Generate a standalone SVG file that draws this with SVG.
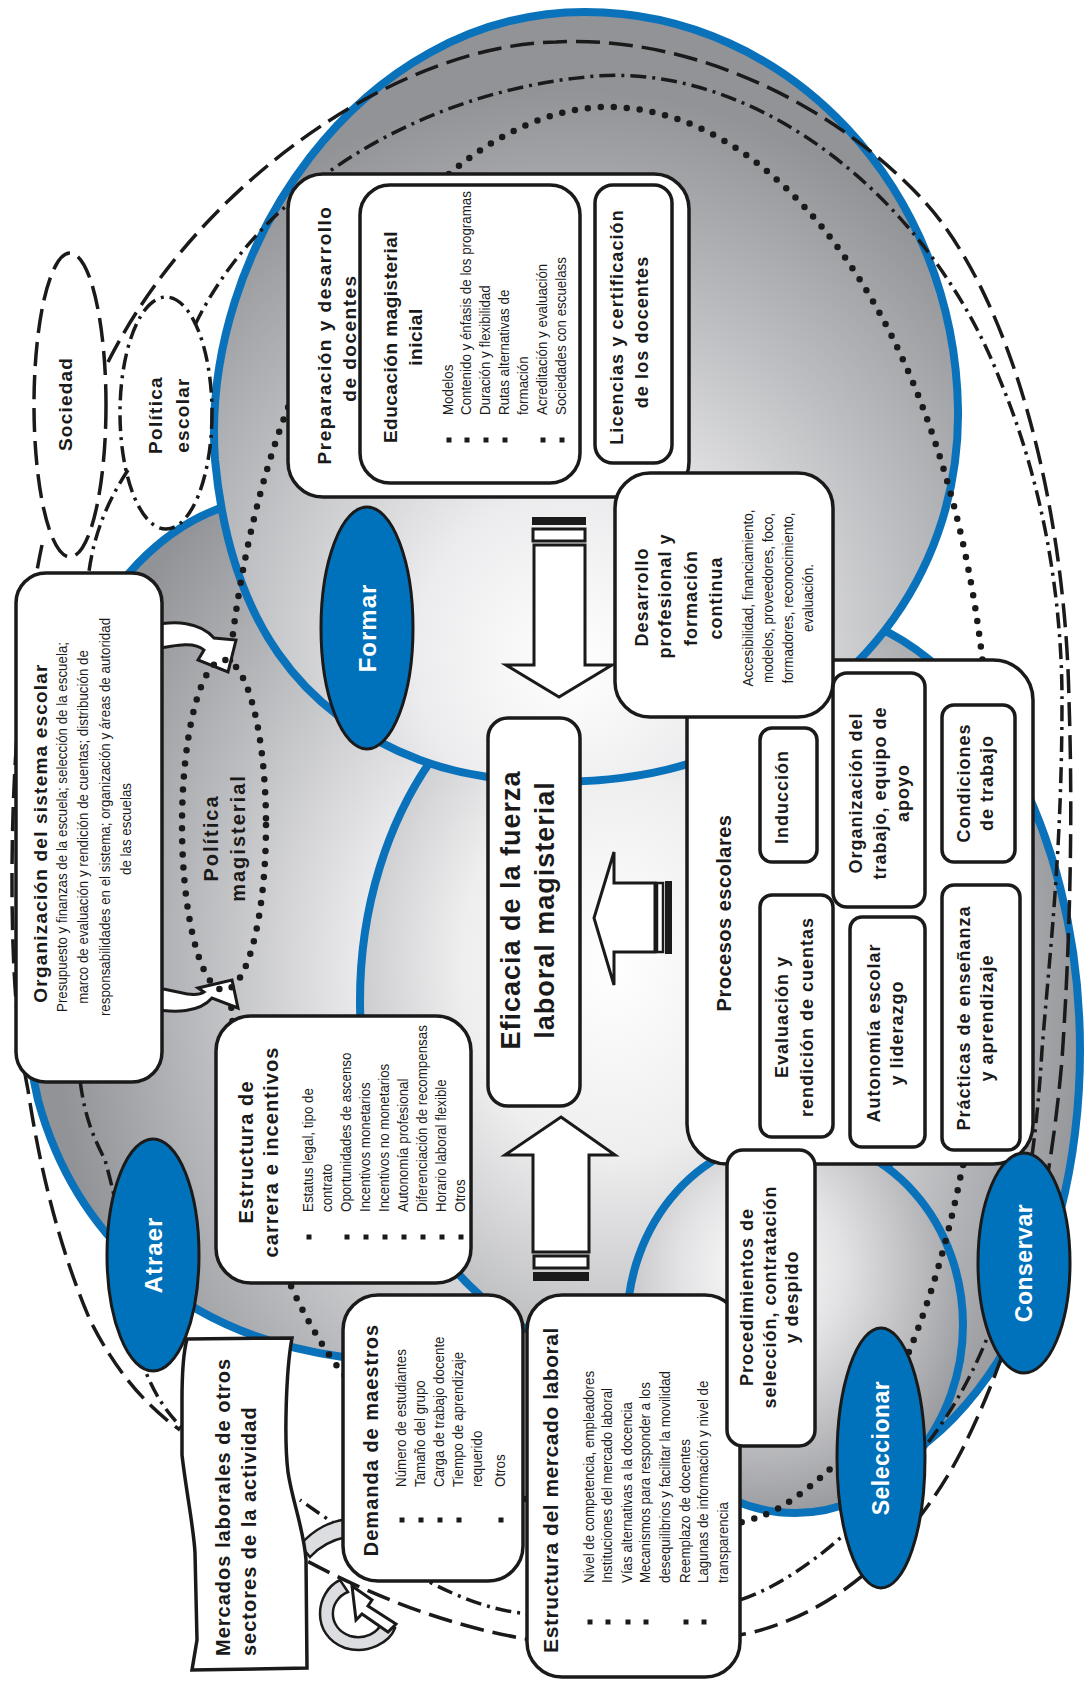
<svg xmlns="http://www.w3.org/2000/svg" width="1089" height="1682" viewBox="0 0 1089 1682">
<defs>
<radialGradient id="gTop" cx=".48" cy=".8" r=".7" fx=".48" fy=".85"><stop offset="0" stop-color="#fff"/><stop offset=".3" stop-color="#ececee"/><stop offset=".65" stop-color="#bdbec1"/><stop offset="1" stop-color="#929397"/></radialGradient>
<radialGradient id="gLeft" cx=".8" cy=".55" r=".75"><stop offset="0" stop-color="#fff"/><stop offset=".35" stop-color="#e9e9eb"/><stop offset=".7" stop-color="#b9babd"/><stop offset="1" stop-color="#929397"/></radialGradient>
<radialGradient id="gCen" cx=".45" cy=".45" r=".6"><stop offset="0" stop-color="#fff"/><stop offset=".45" stop-color="#eeeeef"/><stop offset="1" stop-color="#b0b1b4"/></radialGradient>
<radialGradient id="gRight" cx=".3" cy=".45" r=".75"><stop offset="0" stop-color="#fff"/><stop offset=".35" stop-color="#e4e4e6"/><stop offset=".7" stop-color="#b4b5b8"/><stop offset="1" stop-color="#8f9094"/></radialGradient>
<radialGradient id="gBot" cx=".4" cy=".35" r=".7"><stop offset="0" stop-color="#fff"/><stop offset=".35" stop-color="#e2e2e4"/><stop offset="1" stop-color="#939498"/></radialGradient>
<style>
.sph{stroke:#0a72ba;stroke-width:8}
.bx{fill:#fff;stroke:#1a1a1a;stroke-width:3.5}
.h{font-family:"Liberation Sans",Arial,sans-serif;font-weight:700;text-anchor:middle;fill:#1a1a1a}
.i{font-family:"Liberation Sans",Arial,sans-serif;font-size:15px;fill:#1a1a1a}
.c{font-family:"Liberation Sans",Arial,sans-serif;font-size:15px;fill:#1a1a1a;text-anchor:middle}
.b{fill:#1a1a1a}
.dots{fill:none;stroke:#1a1a1a;stroke-width:6.5;stroke-linecap:round;stroke-dasharray:0 13}
.dash{fill:none;stroke:#1a1a1a;stroke-width:3.5;stroke-dasharray:24 9}
.dd{fill:none;stroke:#1a1a1a;stroke-width:3.5;stroke-dasharray:16 6 3 6}
.blue{fill:#0072bc;stroke:#1a1a1a;stroke-width:3}
.wt{font-family:"Liberation Sans",Arial,sans-serif;font-weight:700;text-anchor:middle;fill:#fff}
.arr{fill:#fff;stroke:#1a1a1a;stroke-width:3;stroke-linejoin:miter}
.gry{fill:#dcdde0;stroke:#1a1a1a;stroke-width:2.5}
</style>
</defs>
<rect width="1089" height="1682" fill="#fff"/>

<g id="spheres">
<ellipse class="sph" fill="url(#gRight)" cx="800" cy="1050" rx="280" ry="440"/>
<path class="sph" fill="url(#gLeft)" d="M250,500 C170,515 95,585 55,710 C15,840 15,1000 38,1100 C75,1235 180,1335 343,1357 C500,1375 620,1250 640,1050 C660,800 520,560 250,500 Z"/>
<ellipse class="sph" fill="url(#gCen)" cx="640" cy="1000" rx="280" ry="360"/>
<ellipse class="sph" fill="url(#gBot)" cx="795" cy="1325" rx="168" ry="188"/>
<path class="sph" fill="url(#gTop)" d="M585,12 C790,12 955,190 958,410 C960,560 870,700 700,760 C620,788 500,790 420,760 C300,715 230,620 215,460 C200,250 360,12 585,12 Z"/>
</g>

<g id="connectors">
<path class="dash" d="M108,362 C200,180 400,45 556,42 C700,35 840,110 924,201 C1010,295 1065,500 1069,700 C1073,820 1070,940 1062,1060 C1047,1230 1012,1350 962,1450 C905,1560 820,1620 740,1635 C650,1650 560,1645 520,1638 C450,1625 380,1600 305,1560"/>
<path class="dash" d="M42,545 C22,640 12,760 12,880 C12,980 18,1040 28,1090 C40,1170 60,1250 90,1320 C115,1370 145,1405 180,1430"/>
<path class="dd" d="M195,325 C260,190 420,90 597,76 C760,65 930,200 1000,380 C1050,500 1062,620 1062,700 C1062,850 1050,950 1042,1050 C1030,1250 990,1360 930,1440 C870,1520 800,1580 740,1600 C660,1625 580,1620 520,1613 C460,1605 400,1570 300,1500"/>
<path class="dd" d="M128,470 C105,505 92,540 88,580 C80,700 75,900 80,1080 C85,1120 95,1140 105,1160 C125,1230 135,1320 145,1370 C155,1395 165,1410 182,1428"/>
<path class="dots" d="M230,660 C240,560 270,420 330,320 C400,200 500,110 604,107 C730,105 850,220 920,400 C970,530 995,680 990,850 C985,1000 975,1120 961,1174 C940,1280 900,1400 850,1450 C810,1490 780,1510 764,1515 C650,1560 450,1500 340,1370 C310,1330 285,1280 270,1230 C245,1150 235,1060 230,990"/>
<path class="arr" d="M150,626 C175,620 200,622 214,638 L236,640 L228,672 L198,660 L204,650 C195,642 180,644 150,650 Z"/>
<path class="arr" d="M150,1008 C175,1014 200,1012 212,998 L238,1008 L232,980 L198,988 L204,992 C195,998 180,992 150,986 Z"/>
<rect x="532" y="517" width="54" height="8" fill="#1a1a1a"/>
<rect x="533" y="529" width="52" height="12" fill="#fff" stroke="#1a1a1a" stroke-width="3"/>
<path class="arr" d="M534,545 L585,545 L585,665 L612,665 L559,697 L506,665 L534,665 Z"/>
<path class="arr" d="M561,1117 L615,1155 L589,1155 L589,1252 L533,1252 L533,1155 L505,1155 Z"/>
<rect x="534" y="1256" width="54" height="12" fill="#fff" stroke="#1a1a1a" stroke-width="3"/>
<rect x="533" y="1272" width="56" height="9" fill="#1a1a1a"/>
<path class="arr" d="M594,918 L614,852 L614,883 L655,883 L655,952 L614,952 L614,985 Z"/>
<rect x="657" y="883" width="6" height="69" fill="#fff" stroke="#1a1a1a" stroke-width="2.5"/>
<rect x="665" y="881" width="7" height="73" fill="#1a1a1a"/>
<path class="gry" d="M300,1545 C315,1528 330,1522 346,1519 L346,1537 C332,1540 320,1546 310,1557 Z"/>
<path class="gry" d="M340,1580 C315,1592 310,1635 345,1648 C368,1655 390,1642 395,1628 L382,1622 C378,1633 365,1640 350,1636 C327,1628 328,1600 348,1592 Z"/>
<path class="arr" d="M352,1586 L372,1600 L368,1606 L396,1624 L388,1632 L362,1614 L356,1620 Z"/>
</g>

<g id="sociedad"><ellipse class="dash" cx="70" cy="405" rx="36" ry="152"/><text class="h" font-size="19" letter-spacing="1.2" transform="translate(72,404) rotate(-90)">Sociedad</text></g>
<g id="politica-escolar"><ellipse class="dd" cx="166" cy="413" rx="46" ry="116"/><text class="h" font-size="19" letter-spacing="1.3" transform="translate(162,415) rotate(-90)">Política</text><text class="h" font-size="19" letter-spacing="1.3" transform="translate(189,415) rotate(-90)">escolar</text></g>

<g id="preparacion">
<rect class="bx" x="288" y="174" width="401" height="323" rx="35"/>
<text class="h" font-size="19" letter-spacing="1.5" transform="translate(331,335) rotate(-90)">Preparación y desarrollo</text>
<text class="h" font-size="19" letter-spacing="1.5" transform="translate(356,338) rotate(-90)">de docentes</text>
</g>
<g id="educacion">
<rect class="bx" x="360" y="185" width="220" height="298" rx="30"/>
<text class="h" font-size="19" letter-spacing=".5" transform="translate(397,337) rotate(-90)">Educación magisterial</text>
<text class="h" font-size="19" letter-spacing=".5" transform="translate(422,337) rotate(-90)">inicial</text>
<g class="b"><rect x="446.5" y="437.5" width="5" height="5"/><rect x="464.5" y="437.5" width="5" height="5"/><rect x="483.5" y="437.5" width="5" height="5"/><rect x="502.5" y="437.5" width="5" height="5"/><rect x="540.5" y="437.5" width="5" height="5"/><rect x="559.5" y="437.5" width="5" height="5"/></g>
<text class="i" transform="translate(453,415) rotate(-90) scale(.89,1)">Modelos</text>
<text class="i" transform="translate(471,415) rotate(-90) scale(.89,1)">Contenido y énfasis de los programas</text>
<text class="i" transform="translate(490,415) rotate(-90) scale(.89,1)">Duración y flexibilidad</text>
<text class="i" transform="translate(509,415) rotate(-90) scale(.89,1)">Rutas alternativas de</text>
<text class="i" transform="translate(528,415) rotate(-90) scale(.89,1)">formación</text>
<text class="i" transform="translate(547,415) rotate(-90) scale(.89,1)">Acreditación y evaluación</text>
<text class="i" transform="translate(566,415) rotate(-90) scale(.89,1)">Sociedades con escuelass</text>
</g>
<g id="licencias">
<rect class="bx" x="595" y="185" width="77" height="278" rx="18"/>
<text class="h" font-size="18" letter-spacing="1.1" transform="translate(623,327) rotate(-90)">Licencias y certificación</text>
<text class="h" font-size="18" letter-spacing="1.1" transform="translate(648,332) rotate(-90)">de los docentes</text>
</g>

<g id="procesos">
<rect class="bx" x="687" y="660" width="346" height="504" rx="40"/>
<text class="h" font-size="20" letter-spacing=".5" transform="translate(731,913) rotate(-90)">Procesos escolares</text>
</g>
<g id="induccion"><rect class="bx" x="760" y="728" width="57" height="134" rx="12"/><text class="h" font-size="18" letter-spacing="1" transform="translate(788,797) rotate(-90)">Inducción</text></g>
<g id="evaluacion"><rect class="bx" x="760" y="895" width="73" height="242" rx="12"/><text class="h" font-size="18" letter-spacing="1" transform="translate(788,1017) rotate(-90)">Evaluación y</text><text class="h" font-size="18" letter-spacing="1" transform="translate(813,1017) rotate(-90)">rendición de cuentas</text></g>
<g id="organizacion-trabajo"><rect class="bx" x="833" y="673" width="92" height="234" rx="14"/><text class="h" font-size="18" letter-spacing="1" transform="translate(862,793) rotate(-90)">Organización del</text><text class="h" font-size="18" letter-spacing="1" transform="translate(886,793) rotate(-90)">trabajo, equipo de</text><text class="h" font-size="18" letter-spacing="1" transform="translate(909,793) rotate(-90)">apoyo</text></g>
<g id="autonomia"><rect class="bx" x="850" y="917" width="75" height="230" rx="12"/><text class="h" font-size="18" letter-spacing="1" transform="translate(880,1033) rotate(-90)">Autonomía escolar</text><text class="h" font-size="18" letter-spacing="1" transform="translate(903,1033) rotate(-90)">y liderazgo</text></g>
<g id="condiciones"><rect class="bx" x="942" y="705" width="73" height="157" rx="12"/><text class="h" font-size="18" letter-spacing="1" transform="translate(970,783) rotate(-90)">Condiciones</text><text class="h" font-size="18" letter-spacing="1" transform="translate(993,783) rotate(-90)">de trabajo</text></g>
<g id="practicas"><rect class="bx" x="942" y="885" width="78" height="265" rx="12"/><text class="h" font-size="18" letter-spacing="1" transform="translate(970,1018) rotate(-90)">Prácticas de enseñanza</text><text class="h" font-size="18" letter-spacing="1" transform="translate(993,1018) rotate(-90)">y aprendizaje</text></g>

<g id="desarrollo">
<rect class="bx" x="615" y="473" width="218" height="244" rx="35"/>
<text class="h" font-size="18" letter-spacing="1" transform="translate(648,597) rotate(-90)">Desarrollo</text>
<text class="h" font-size="18" letter-spacing="1" transform="translate(671,596) rotate(-90)">profesional y</text>
<text class="h" font-size="18" letter-spacing="1" transform="translate(697,598) rotate(-90)">formación</text>
<text class="h" font-size="18" letter-spacing="1" transform="translate(722,598) rotate(-90)">continua</text>
<text class="c" transform="translate(753,598) rotate(-90) scale(.9,1)">Accesibilidad, financiamiento,</text>
<text class="c" transform="translate(773,598) rotate(-90) scale(.9,1)">modelos, proveedores, foco,</text>
<text class="c" transform="translate(793,598) rotate(-90) scale(.9,1)">formadores, reconocimiento,</text>
<text class="c" transform="translate(813,598) rotate(-90) scale(.9,1)">evaluación.</text>
</g>

<g id="organizacion-sistema">
<rect class="bx" x="16" y="573" width="146" height="509" rx="30"/>
<text class="h" font-size="19" letter-spacing="1.2" transform="translate(47,833) rotate(-90)">Organización del sistema escolar</text>
<text class="c" font-size="16" transform="translate(67,827) rotate(-90) scale(.89,1)">Presupuesto y finanzas de la escuela; selección de la escuela;</text>
<text class="c" font-size="16" transform="translate(88,827) rotate(-90) scale(.89,1)">marco de evaluación y rendición de cuentas; distribución de</text>
<text class="c" font-size="16" transform="translate(110,817) rotate(-90) scale(.89,1)">responsabilidades en el sistema; organización y áreas de autoridad</text>
<text class="c" font-size="16" transform="translate(131,829) rotate(-90) scale(.89,1)">de las escuelas</text>
</g>

<g id="politica-magisterial">
<ellipse cx="224" cy="825" rx="42" ry="165" fill="#fff" fill-opacity=".6" class="dots"/>
<text class="h" font-size="20" letter-spacing="2" transform="translate(218,838) rotate(-90)">Política</text>
<text class="h" font-size="20" letter-spacing="2" transform="translate(245,838) rotate(-90)">magisterial</text>
</g>

<g id="eficacia">
<rect class="bx" x="488" y="718" width="92" height="388" rx="20"/>
<text class="h" font-size="27" letter-spacing="1" transform="translate(520,910) rotate(-90)">Eficacia de la fuerza</text>
<text class="h" font-size="27" letter-spacing="1" transform="translate(554,910) rotate(-90)">laboral magisterial</text>
</g>

<g id="estructura-carrera">
<rect class="bx" x="216" y="1016" width="255" height="267" rx="35"/>
<text class="h" font-size="20" letter-spacing="1.1" transform="translate(253,1152) rotate(-90)">Estructura de</text>
<text class="h" font-size="20" letter-spacing="1.1" transform="translate(278,1152) rotate(-90)">carrera e incentivos</text>
<g class="b"><rect x="306.5" y="1234.5" width="5" height="5"/><rect x="344.5" y="1234.5" width="5" height="5"/><rect x="363.5" y="1234.5" width="5" height="5"/><rect x="382.5" y="1234.5" width="5" height="5"/><rect x="401.5" y="1234.5" width="5" height="5"/><rect x="420.5" y="1234.5" width="5" height="5"/><rect x="439.5" y="1234.5" width="5" height="5"/><rect x="458.5" y="1234.5" width="5" height="5"/></g>
<text class="i" transform="translate(313,1212) rotate(-90) scale(.89,1)">Estatus legal, tipo de</text>
<text class="i" transform="translate(332,1212) rotate(-90) scale(.89,1)">contrato</text>
<text class="i" transform="translate(351,1212) rotate(-90) scale(.89,1)">Oportunidades de ascenso</text>
<text class="i" transform="translate(370,1212) rotate(-90) scale(.89,1)">Incentivos monetarios</text>
<text class="i" transform="translate(389,1212) rotate(-90) scale(.89,1)">Incentivos no monetarios</text>
<text class="i" transform="translate(408,1212) rotate(-90) scale(.89,1)">Autonomía profesional</text>
<text class="i" transform="translate(427,1212) rotate(-90) scale(.89,1)">Diferenciación de recompensas</text>
<text class="i" transform="translate(446,1212) rotate(-90) scale(.89,1)">Horario laboral flexible</text>
<text class="i" transform="translate(465,1212) rotate(-90) scale(.89,1)">Otros</text>
</g>

<g id="mercados-otros">
<path class="bx" d="M187,1339 L292,1338 C286,1370 284,1440 288,1472 C292,1500 304,1530 306,1560 L307,1668 L192,1670 L197,1640 L195,1553 C194,1530 186,1490 182,1455 L182,1400 C182,1370 184,1350 187,1339 Z"/>
<text class="h" font-size="20" letter-spacing="1" style="text-anchor:start" transform="translate(230,1656) rotate(-90)">Mercados laborales de otros</text>
<text class="h" font-size="20" letter-spacing="1" style="text-anchor:start" transform="translate(256,1656) rotate(-90)">sectores de la actividad</text>
</g>

<g id="demanda">
<rect class="bx" x="343" y="1295" width="180" height="286" rx="35"/>
<text class="h" font-size="20" letter-spacing="1" transform="translate(378,1440) rotate(-90)">Demanda de maestros</text>
<g class="b"><rect x="399.5" y="1517.5" width="5" height="5"/><rect x="418.5" y="1517.5" width="5" height="5"/><rect x="437.5" y="1517.5" width="5" height="5"/><rect x="456.5" y="1517.5" width="5" height="5"/><rect x="498.5" y="1517.5" width="5" height="5"/></g>
<text class="i" transform="translate(406,1487) rotate(-90) scale(.89,1)">Número de estudiantes</text>
<text class="i" transform="translate(425,1487) rotate(-90) scale(.89,1)">Tamaño del grupo</text>
<text class="i" transform="translate(444,1487) rotate(-90) scale(.89,1)">Carga de trabajo docente</text>
<text class="i" transform="translate(463,1487) rotate(-90) scale(.89,1)">Tiempo de aprendizaje</text>
<text class="i" transform="translate(482,1487) rotate(-90) scale(.89,1)">requerido</text>
<text class="i" transform="translate(505,1487) rotate(-90) scale(.89,1)">Otros</text>
</g>

<g id="estructura-mercado">
<rect class="bx" x="527" y="1295" width="213" height="382" rx="35"/>
<text class="h" font-size="21" letter-spacing=".55" transform="translate(558,1490) rotate(-90)">Estructura del mercado laboral</text>
<g class="b"><rect x="587.5" y="1619.5" width="5" height="5"/><rect x="605.5" y="1619.5" width="5" height="5"/><rect x="625.5" y="1619.5" width="5" height="5"/><rect x="643.5" y="1619.5" width="5" height="5"/><rect x="683.5" y="1619.5" width="5" height="5"/><rect x="701.5" y="1619.5" width="5" height="5"/></g>
<text class="i" transform="translate(594,1583) rotate(-90) scale(.89,1)">Nivel de competencia, empleadores</text>
<text class="i" transform="translate(612,1583) rotate(-90) scale(.89,1)">Instituciones del mercado laboral</text>
<text class="i" transform="translate(632,1583) rotate(-90) scale(.89,1)">Vías alternativas a la docencia</text>
<text class="i" transform="translate(650,1583) rotate(-90) scale(.89,1)">Mecanismos para responder a los</text>
<text class="i" transform="translate(670,1583) rotate(-90) scale(.89,1)">desequilibrios y facilitar la movilidad</text>
<text class="i" transform="translate(690,1583) rotate(-90) scale(.89,1)">Reemplazo de docentes</text>
<text class="i" transform="translate(708,1583) rotate(-90) scale(.89,1)">Lagunas de información y nivel de</text>
<text class="i" transform="translate(728,1583) rotate(-90) scale(.89,1)">transparencia</text>
</g>

<g id="procedimientos">
<rect class="bx" x="727" y="1150" width="88" height="296" rx="16"/>
<text class="h" font-size="18" letter-spacing="1" transform="translate(753,1297) rotate(-90)">Procedimientos de</text>
<text class="h" font-size="18" letter-spacing="1" transform="translate(776,1297) rotate(-90)">selección, contratación</text>
<text class="h" font-size="18" letter-spacing="1" transform="translate(798,1297) rotate(-90)">y despido</text>
</g>

<g id="atraer"><ellipse class="blue" cx="153" cy="1255" rx="46" ry="116"/><text class="wt" font-size="24" letter-spacing="1" transform="translate(162,1255) rotate(-90)">Atraer</text></g>
<g id="formar"><ellipse class="blue" cx="367" cy="628" rx="46" ry="121"/><text class="wt" font-size="24" letter-spacing="1" transform="translate(376,628) rotate(-90)">Formar</text></g>
<g id="conservar"><ellipse class="blue" cx="1024" cy="1263" rx="46" ry="110"/><text class="wt" font-size="23" letter-spacing=".5" transform="translate(1032,1263) rotate(-90)">Conservar</text></g>
<g id="seleccionar"><ellipse class="blue" cx="881" cy="1458" rx="44" ry="130"/><text class="wt" font-size="23" letter-spacing=".5" transform="translate(889,1448) rotate(-90)">Seleccionar</text></g>
</svg>
